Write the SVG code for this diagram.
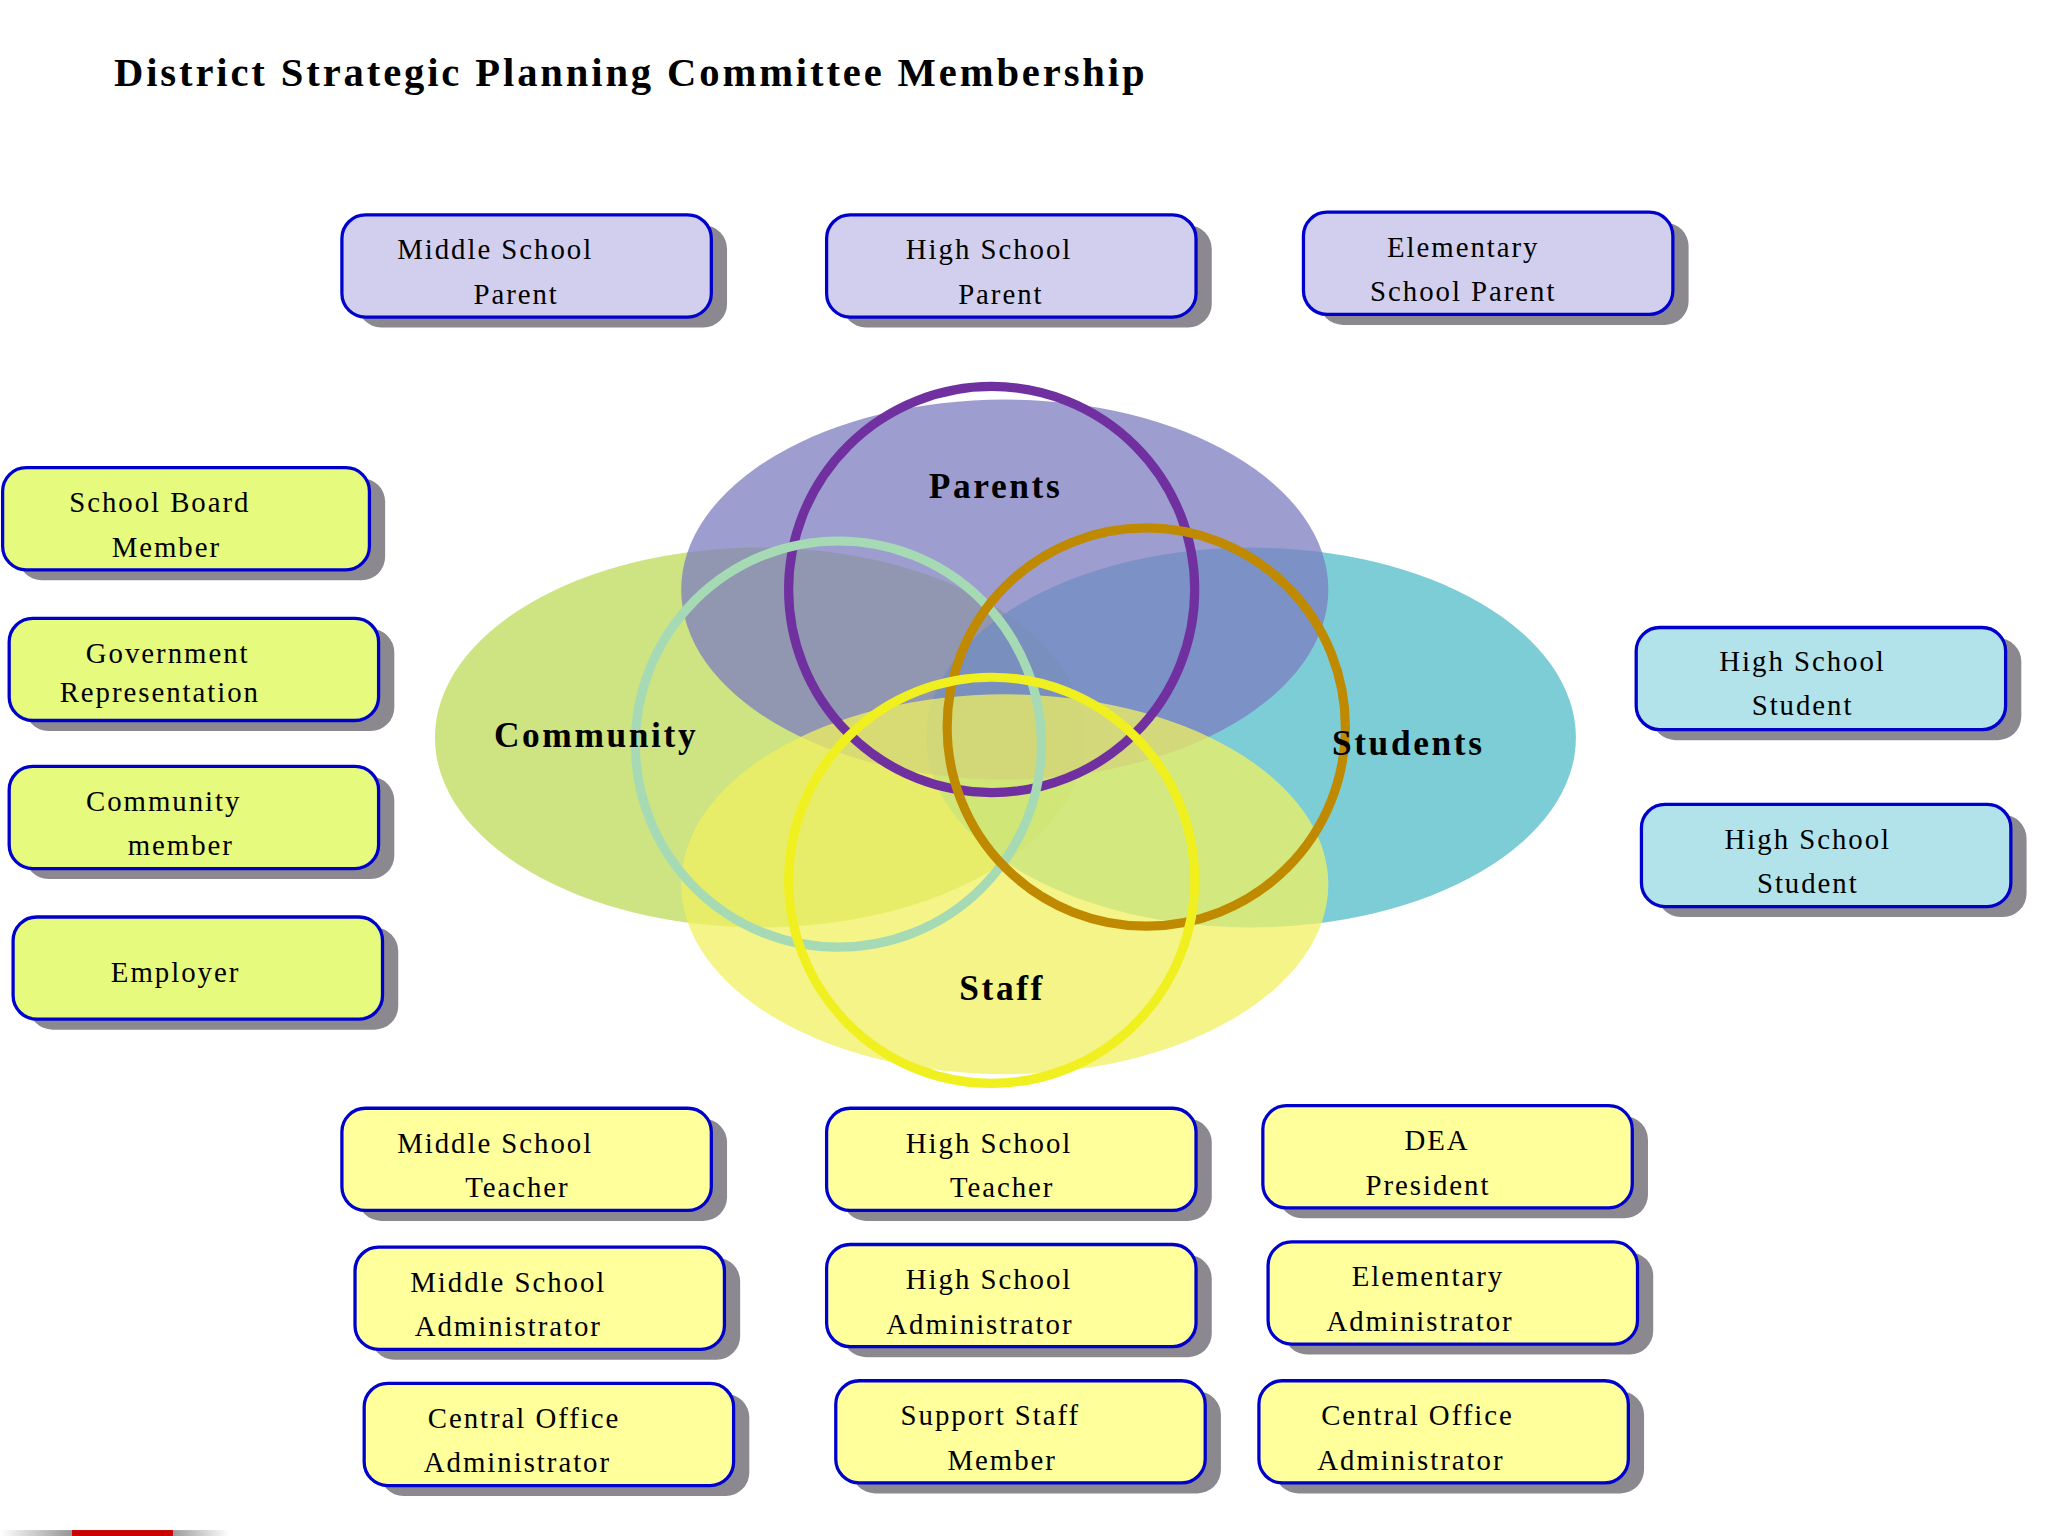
<svg xmlns="http://www.w3.org/2000/svg" width="2048" height="1536" viewBox="0 0 2048 1536">
<style>
.b rect.s{fill:#8c8890}
.b rect.f{stroke:#0000cc;stroke-width:2.5}
.p rect.f{fill:#d2cfee}.g rect.f{fill:#e6fa7e}.c rect.f{fill:#b2e2ea}.y rect.f{fill:#ffff9c}
text{font-family:"Liberation Serif",serif;fill:#000}
.b text{font-size:22px;letter-spacing:1.5px;text-anchor:middle}
.l{font-size:27px;font-weight:bold;letter-spacing:2px;text-anchor:middle}
</style>
<defs>
<linearGradient id="gb" x1="0" x2="1"><stop offset="0" stop-color="#fff"/><stop offset="0.3" stop-color="#999"/><stop offset="0.75" stop-color="#999"/><stop offset="1" stop-color="#fff"/></linearGradient>
</defs>
<rect width="2048" height="1536" fill="#fff"/>
<g transform="scale(1.31)">
<text x="87" y="66" style="font-size:31px;font-weight:bold;letter-spacing:2.2px">District Strategic Planning Committee Membership</text>
<g id="venn">
<ellipse cx="580" cy="563" rx="248" ry="145" fill="#c6df6c" opacity="0.85"/>
<ellipse cx="955" cy="563" rx="248" ry="145" fill="#52bcc8" opacity="0.75"/>
<ellipse cx="767" cy="450" rx="247" ry="145" fill="#7c7cc0" opacity="0.75"/>
<ellipse cx="767" cy="675" rx="247" ry="145" fill="#f0f060" opacity="0.75"/>
<g fill="none" stroke-width="7">
<circle cx="757" cy="450" r="155" stroke="#7030a0"/>
<circle cx="640" cy="568" r="155" stroke="#a6dab4"/>
<circle cx="875" cy="555" r="152" stroke="#c08a00"/>
<circle cx="757" cy="672" r="155" stroke="#f0f020"/>
</g>
<text class="l" x="760" y="380">Parents</text>
<text class="l" x="455" y="570">Community</text>
<text class="l" x="1075" y="576">Students</text>
<text class="l" x="765" y="763">Staff</text>
</g>
<g id="connectors"/>
<g id="n1" class="b p"><rect class="s" x="273" y="172" width="282" height="78" rx="18"/><rect class="f" x="261" y="164" width="282" height="78" rx="18"/><text x="378" y="198">Middle School</text><text x="394" y="232">Parent</text></g>
<g id="n2" class="b p"><rect class="s" x="643" y="172" width="282" height="78" rx="18"/><rect class="f" x="631" y="164" width="282" height="78" rx="18"/><text x="755" y="198">High School</text><text x="764" y="232">Parent</text></g>
<g id="n3" class="b p"><rect class="s" x="1007" y="170" width="282" height="78" rx="18"/><rect class="f" x="995" y="162" width="282" height="78" rx="18"/><text x="1117" y="196">Elementary</text><text x="1117" y="230">School Parent</text></g>
<g id="n4" class="b g"><rect class="s" x="14" y="365" width="280" height="78" rx="18"/><rect class="f" x="2" y="357" width="280" height="78" rx="18"/><text x="122" y="391">School Board</text><text x="127" y="425">Member</text></g>
<g id="n5" class="b g"><rect class="s" x="19" y="480" width="282" height="78" rx="18"/><rect class="f" x="7" y="472" width="282" height="78" rx="18"/><text x="128" y="506">Government</text><text x="122" y="536">Representation</text></g>
<g id="n6" class="b g"><rect class="s" x="19" y="593" width="282" height="78" rx="18"/><rect class="f" x="7" y="585" width="282" height="78" rx="18"/><text x="125" y="619">Community</text><text x="138" y="653">member</text></g>
<g id="n7" class="b g"><rect class="s" x="22" y="708" width="282" height="78" rx="18"/><rect class="f" x="10" y="700" width="282" height="78" rx="18"/><text x="134" y="750">Employer</text></g>
<g id="n8" class="b c"><rect class="s" x="1261" y="487" width="282" height="78" rx="18"/><rect class="f" x="1249" y="479" width="282" height="78" rx="18"/><text x="1376" y="512">High School</text><text x="1376" y="546">Student</text></g>
<g id="n9" class="b c"><rect class="s" x="1265" y="622" width="282" height="78" rx="18"/><rect class="f" x="1253" y="614" width="282" height="78" rx="18"/><text x="1380" y="648">High School</text><text x="1380" y="682">Student</text></g>
<g id="n10" class="b y"><rect class="s" x="273" y="854" width="282" height="78" rx="18"/><rect class="f" x="261" y="846" width="282" height="78" rx="18"/><text x="378" y="880">Middle School</text><text x="395" y="914">Teacher</text></g>
<g id="n11" class="b y"><rect class="s" x="643" y="854" width="282" height="78" rx="18"/><rect class="f" x="631" y="846" width="282" height="78" rx="18"/><text x="755" y="880">High School</text><text x="765" y="914">Teacher</text></g>
<g id="n12" class="b y"><rect class="s" x="976" y="852" width="282" height="78" rx="18"/><rect class="f" x="964" y="844" width="282" height="78" rx="18"/><text x="1097" y="878">DEA</text><text x="1090" y="912">President</text></g>
<g id="n13" class="b y"><rect class="s" x="283" y="960" width="282" height="78" rx="18"/><rect class="f" x="271" y="952" width="282" height="78" rx="18"/><text x="388" y="986">Middle School</text><text x="388" y="1020">Administrator</text></g>
<g id="n14" class="b y"><rect class="s" x="643" y="958" width="282" height="78" rx="18"/><rect class="f" x="631" y="950" width="282" height="78" rx="18"/><text x="755" y="984">High School</text><text x="748" y="1018">Administrator</text></g>
<g id="n15" class="b y"><rect class="s" x="980" y="956" width="282" height="78" rx="18"/><rect class="f" x="968" y="948" width="282" height="78" rx="18"/><text x="1090" y="982">Elementary</text><text x="1084" y="1016">Administrator</text></g>
<g id="n16" class="b y"><rect class="s" x="290" y="1064" width="282" height="78" rx="18"/><rect class="f" x="278" y="1056" width="282" height="78" rx="18"/><text x="400" y="1090">Central Office</text><text x="395" y="1124">Administrator</text></g>
<g id="n17" class="b y"><rect class="s" x="650" y="1062" width="282" height="78" rx="18"/><rect class="f" x="638" y="1054" width="282" height="78" rx="18"/><text x="756" y="1088">Support Staff</text><text x="765" y="1122">Member</text></g>
<g id="n18" class="b y"><rect class="s" x="973" y="1062" width="282" height="78" rx="18"/><rect class="f" x="961" y="1054" width="282" height="78" rx="18"/><text x="1082" y="1088">Central Office</text><text x="1077" y="1122">Administrator</text></g>
<rect x="0" y="1168" width="175" height="8" fill="url(#gb)"/>
<rect x="55" y="1168" width="77" height="8" fill="#cc0000"/>
</g>
</svg>
